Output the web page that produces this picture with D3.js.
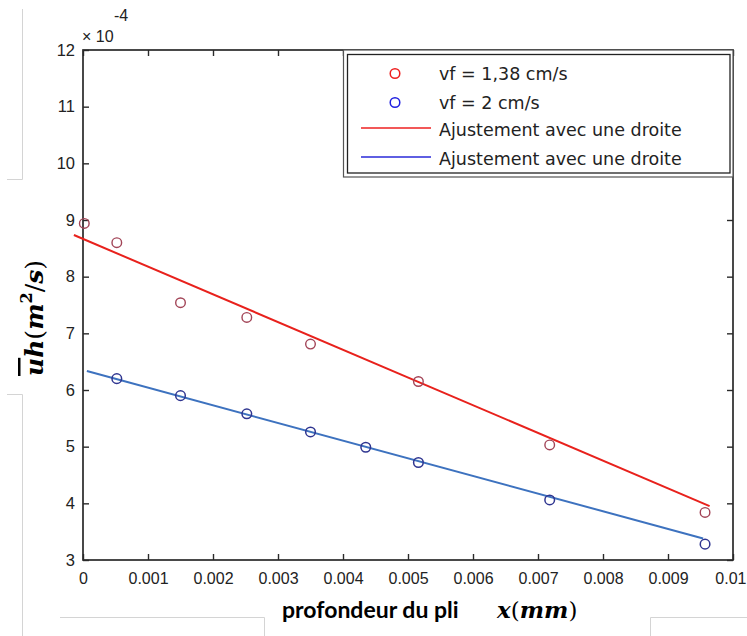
<!DOCTYPE html>
<html><head><meta charset="utf-8">
<script src="https://cdn.jsdelivr.net/npm/d3@7"></script>
<style>body{margin:0;background:#fff}svg{display:block}</style>
</head><body>
<svg id="c" width="747" height="636"></svg>
<script>
const xTicks = [0,0.001,0.002,0.003,0.004,0.005,0.006,0.007,0.008,0.009,0.01];
const xTickLabels = ["0","0.001","0.002","0.003","0.004","0.005","0.006","0.007","0.008","0.009","0.01"];
const yTicks = [3,4,5,6,7,8,9,10,11,12];
const redX = [0.00002,0.00052,0.0015,0.00252,0.0035,0.00516,0.00718,0.00957];
const redY = [8.94,8.60,7.54,7.28,6.81,6.15,5.03,3.84];
const blueX = [0.00052,0.0015,0.00252,0.0035,0.00435,0.00516,0.00718,0.00957];
const blueY = [6.20,5.90,5.58,5.26,4.99,4.72,4.06,3.28];
const redFitX = [-0.00014,0.00964];
const redFitY = [8.735,3.95];
const blueFitX = [0.00006,0.00954];
const blueFitY = [6.335,3.38];
const legendLabels = ["vf = 1,38 cm/s","vf = 2 cm/s","Ajustement avec une droite","Ajustement avec une droite"];

const svg = d3.select("#c");
const L=83,R=733,T=50,B=560;
const x = d3.scaleLinear().domain([0,0.01]).range([L,R]);
const y = d3.scaleLinear().domain([3,12]).range([B,T]);
const axisCol="#2a2a2a";

// faint scan artifacts
const art = svg.append("g").attr("stroke","#d4d4d4").attr("stroke-width",1).attr("fill","none");
art.append("path").attr("d","M22.5,9V179.5H7");
art.append("path").attr("d","M7,394.5H22.5V636");
art.append("path").attr("d","M60,617.5H264.5V636");
art.append("path").attr("d","M747,617.5H650.5V636");

// ticks
const tickFont = "'Liberation Sans', Arial, sans-serif";
const gx = svg.append("g").attr("transform",`translate(0,${B})`)
  .call(d3.axisBottom(x).tickValues(xTicks).tickFormat((d,i)=>xTickLabels[i]).tickSizeInner(-6).tickSizeOuter(0).tickPadding(12.5));
const gxt = svg.append("g").attr("transform",`translate(0,${T})`)
  .call(d3.axisTop(x).tickValues(xTicks).tickFormat("").tickSizeInner(-6).tickSizeOuter(0));
const gy = svg.append("g").attr("transform",`translate(${L},0)`)
  .call(d3.axisLeft(y).tickValues(yTicks).tickSizeInner(-6).tickSizeOuter(0).tickPadding(8));
const gyr = svg.append("g").attr("transform",`translate(${R},0)`)
  .call(d3.axisRight(y).tickValues(yTicks).tickFormat("").tickSizeInner(-6).tickSizeOuter(0));
[gx,gxt,gy,gyr].forEach(g=>{
  g.select(".domain").remove();
  g.selectAll("line").attr("stroke",axisCol).attr("stroke-width",1.4);
  g.selectAll("text").attr("font-family",tickFont).attr("font-size",16).attr("fill","#222");
});
gy.selectAll("text").attr("font-size",16.5);
gx.selectAll("text").filter(d=>d===0.01).attr("text-anchor","end").attr("dx",13);
svg.append("rect").attr("x",L).attr("y",T).attr("width",R-L).attr("height",B-T)
  .attr("fill","none").attr("stroke",axisCol).attr("stroke-width",1.7);

// exponent
svg.append("text").attr("x",82).attr("y",42).attr("font-family",tickFont).attr("font-size",16).attr("fill","#222").text("\u00d7 10");
svg.append("text").attr("x",114).attr("y",21).attr("font-family",tickFont).attr("font-size",16).attr("fill","#222").text("-4");

// fit lines
const line = d3.line().x(d=>x(d[0])).y(d=>y(d[1]));
svg.append("path").datum(redFitX.map((v,i)=>[v,redFitY[i]])).attr("d",line)
  .attr("stroke","#e8211c").attr("stroke-width",2).attr("fill","none");
svg.append("path").datum(blueFitX.map((v,i)=>[v,blueFitY[i]])).attr("d",line)
  .attr("stroke","#3d72bf").attr("stroke-width",2).attr("fill","none");

// points
svg.append("g").selectAll("circle").data(redX.map((v,i)=>[v,redY[i]])).join("circle")
  .attr("cx",d=>x(d[0])).attr("cy",d=>y(d[1])).attr("r",4.8)
  .attr("fill","none").attr("stroke","#a24457").attr("stroke-width",1.4);
svg.append("g").selectAll("circle").data(blueX.map((v,i)=>[v,blueY[i]])).join("circle")
  .attr("cx",d=>x(d[0])).attr("cy",d=>y(d[1])).attr("r",4.8)
  .attr("fill","none").attr("stroke","#2f3590").attr("stroke-width",1.5);

// legend
const lg = svg.append("g");
lg.append("rect").attr("x",343.5).attr("y",50).attr("width",733-343.5).attr("height",127)
  .attr("fill","#fff").attr("stroke","#555").attr("stroke-width",1.2);
lg.append("rect").attr("x",347.5).attr("y",54.5).attr("width",730-347.5).attr("height",118.5)
  .attr("fill","none").attr("stroke","#222").attr("stroke-width",1.3);
const rowY = [73.5,102.5,128,157];
const rowBase = [79.5,108.5,135.5,164.5];
lg.append("circle").attr("cx",395).attr("cy",rowY[0]).attr("r",4.8).attr("fill","none").attr("stroke","#ee2020").attr("stroke-width",1.5);
lg.append("circle").attr("cx",395).attr("cy",rowY[1]).attr("r",4.8).attr("fill","none").attr("stroke","#2020e0").attr("stroke-width",1.5);
lg.append("line").attr("x1",361).attr("x2",431).attr("y1",rowY[2]).attr("y2",rowY[2]).attr("stroke","#ee2020").attr("stroke-width",1.5);
lg.append("line").attr("x1",361).attr("x2",431).attr("y1",rowY[3]).attr("y2",rowY[3]).attr("stroke","#2a2ad8").attr("stroke-width",1.5);
lg.selectAll("text.l").data(legendLabels).join("text").attr("class","l")
  .attr("x",439).attr("y",(d,i)=>rowBase[i])
  .attr("font-family","'DejaVu Sans', sans-serif").attr("font-size",17.5).attr("fill","#222").text(d=>d);

// x label
const serif = "'DejaVu Serif', 'Liberation Serif', serif";
const xl = svg.append("text").attr("x",282).attr("y",618).attr("fill","#000");
xl.append("tspan").attr("font-family","Lato, 'Open Sans', sans-serif").attr("font-weight","bold").attr("font-size",23).text("profondeur du pli");
xl.append("tspan").attr("x",497).attr("font-family",serif).attr("font-weight","bold").attr("font-style","italic").attr("font-size",23).text("x");
xl.append("tspan").attr("font-family",serif).attr("font-size",23).text("(");
xl.append("tspan").attr("font-family",serif).attr("font-weight","bold").attr("font-style","italic").attr("font-size",23).text("mm");
xl.append("tspan").attr("font-family",serif).attr("font-size",23).text(")");

// y label
const yl = svg.append("text").attr("transform","translate(43,318) rotate(-90)").attr("text-anchor","middle")
  .attr("font-family",serif).attr("font-weight","bold").attr("font-size",25).attr("fill","#000");
yl.append("tspan").attr("font-style","italic").attr("text-decoration","overline").text("u");
yl.append("tspan").attr("font-style","italic").text("h");
yl.append("tspan").attr("font-weight","normal").text("(");
yl.append("tspan").attr("font-style","italic").text("m");
yl.append("tspan").attr("font-size",16).attr("dy",-11).text("2");
yl.append("tspan").attr("dy",11).attr("font-weight","normal").text("/");
yl.append("tspan").attr("font-style","italic").text("s");
yl.append("tspan").attr("font-weight","normal").text(")");
</script>
</body></html>
